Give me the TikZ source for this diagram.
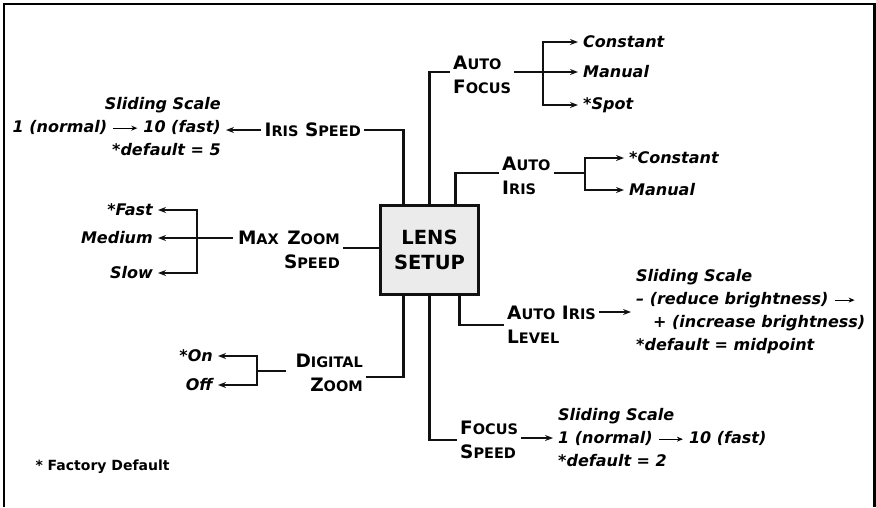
\documentclass[tikz,border=0pt]{standalone}
\usepackage{fontspec}
\setmainfont{DejaVu Sans}
\usetikzlibrary{positioning,arrows.meta,calc}
\definecolor{lsline}{HTML}{111111}
\definecolor{lsbox}{HTML}{EBEBEB}
\newcommand\capword[2]{#1{\fontsize{14.5}{16}\selectfont #2}}
\newcommand\slidearrow[1]{\tikz[baseline=-0.3em]\draw[line width=1.1pt,-{Stealth[length=6pt,width=5pt]}] (0,0) -- (#1,0);}

\begin{document}
\begin{tikzpicture}[
  x=1pt, y=-1pt,
  lbl/.style={font=\bfseries\fontsize{18.5}{24}\selectfont, inner sep=3pt},
  opt/.style={font=\bfseries\itshape\fontsize{16}{23}\selectfont, inner xsep=5pt, inner ysep=3pt},
  lens/.style={draw=lsline, fill=lsbox, line width=2.6pt, minimum width=98pt,
               minimum height=89pt, align=center, font=\bfseries\fontsize{19.5}{25}\selectfont},
  conn/.style={draw=lsline, line width=2.6pt},
  fork/.style={draw=lsline, line width=1.2pt},
  arr/.style={fork, -{Stealth[length=8pt,width=6pt]}},
]
  \useasboundingbox (0,0) rectangle (876,507);
  \draw[line width=2.4pt] (4,507) -- (4,4) -- (874.5,4) -- (874.5,507);

  % ---- the centre box and the settings round it -----------------------------
  \node[lens] (lens) at (429.5,250) {LENS\\SETUP};

  \node[lbl, anchor=east] (irisspd) at (364,130) {\capword{I}{RIS} \capword{S}{PEED}};
  \node[lbl, anchor=west, align=left] (autofocus) at (450,75)
    {\capword{A}{UTO}\\\capword{F}{OCUS}};
  \node[lbl, anchor=west, align=left] (autoiris) at (499,176)
    {\capword{A}{UTO}\\\capword{I}{RIS}};
  \node[lbl, anchor=east, align=right] (maxzoom) at (343,250)
    {\capword{M}{AX}\hspace{2pt} \capword{Z}{OOM}\\\capword{S}{PEED}};
  \node[lbl, anchor=east, align=right] (digzoom) at (366,373)
    {\capword{D}{IGITAL}\\\capword{Z}{OOM}};
  \node[lbl, anchor=west, align=left] (irislevel) at (504,325)
    {\capword{A}{UTO} \capword{I}{RIS}\\\capword{L}{EVEL}};
  \node[lbl, anchor=west, align=left] (focusspd) at (457,440)
    {\capword{F}{OCUS}\\\capword{S}{PEED}};

  \draw[conn] (irisspd.east) -| ([xshift=-26pt]lens.north);
  \draw[conn] ([yshift=3pt]autofocus.west) -| (lens.north);
  \draw[conn] ([yshift=3pt]autoiris.west) -| ([xshift=26pt]lens.north);
  \draw[conn] ([yshift=2pt]maxzoom.east) -- ([yshift=2pt]maxzoom.east -| lens.west);
  \draw[conn] ([yshift=-4pt]digzoom.east) -| ([xshift=-26pt]lens.south);
  \draw[conn] (irislevel.west) -| ([xshift=30pt]lens.south);
  \draw[conn] (focusspd.west) -| (lens.south);

  % ---- the choices ---------------------------------------------------------
  \node[opt, anchor=east, align=right] (irisscale) at (226,127)
    {Sliding Scale\\1 (normal) \slidearrow{24pt} 10 (fast)\\*default = 5};
  \node[opt, anchor=east] (fast) at (158,210) {*Fast};
  \node[opt, anchor=east] (medium) at (158,238) {Medium};
  \node[opt, anchor=east] (slow) at (158,273) {Slow};
  \node[opt, anchor=east] (digon) at (218,356) {*On};
  \node[opt, anchor=east] (digoff) at (218,385) {Off};
  \node[opt, anchor=west] (afconst) at (578,42) {Constant};
  \node[opt, anchor=west] (afmanual) at (578,72) {Manual};
  \node[opt, anchor=west] (afspot) at (578,105) {*Spot};
  \node[opt, anchor=west] (aiconst) at (624,158) {*Constant};
  \node[opt, anchor=west] (aimanual) at (624,190) {Manual};
  \node[opt, anchor=west, align=left] (levelscale) at (631,312)
    {Sliding Scale\\– (reduce brightness) \slidearrow{20pt}\\
     \hspace{17pt}+ (increase brightness)\\*default = midpoint};
  \node[opt, anchor=west, align=left] (fsscale) at (553,438)
    {Sliding Scale\\1 (normal) \slidearrow{24pt} 10 (fast)\\*default = 2};
  \node[font=\bfseries\fontsize{14}{18}\selectfont, anchor=west] (factory) at (32,467)
    {* Factory Default};

  \coordinate (mzfork) at (197,238);
  \coordinate (dzfork) at (257,371);
  \coordinate (affork) at (543,72);
  \coordinate (aifork) at (585,173);

  \draw[arr] (irisspd.west) -- (irisspd.west -| irisscale.east);
  \draw[arr] ([xshift=-2pt]maxzoom.west |- medium.east) -- (medium.east);
  \draw[arr] (mzfork) |- (fast.east);
  \draw[arr] (mzfork) |- (slow.east);
  \draw[fork] ([xshift=-6pt]digzoom.west |- dzfork) -- (dzfork);
  \draw[arr] (dzfork) |- (digon.east);
  \draw[arr] (dzfork) |- (digoff.east);
  \draw[arr] (autofocus.east |- afmanual.west) -- (afmanual.west);
  \draw[arr] (affork) |- (afconst.west);
  \draw[arr] (affork) |- (afspot.west);
  \draw[fork] (autoiris.east |- aifork) -- (aifork);
  \draw[arr] (aifork) |- (aiconst.west);
  \draw[arr] (aifork) |- (aimanual.west);
  \draw[arr] (irislevel.east |- levelscale.west) -- (levelscale.west);
  \draw[arr] (focusspd.east |- fsscale.west) -- (fsscale.west);
\end{tikzpicture}
\end{document}
